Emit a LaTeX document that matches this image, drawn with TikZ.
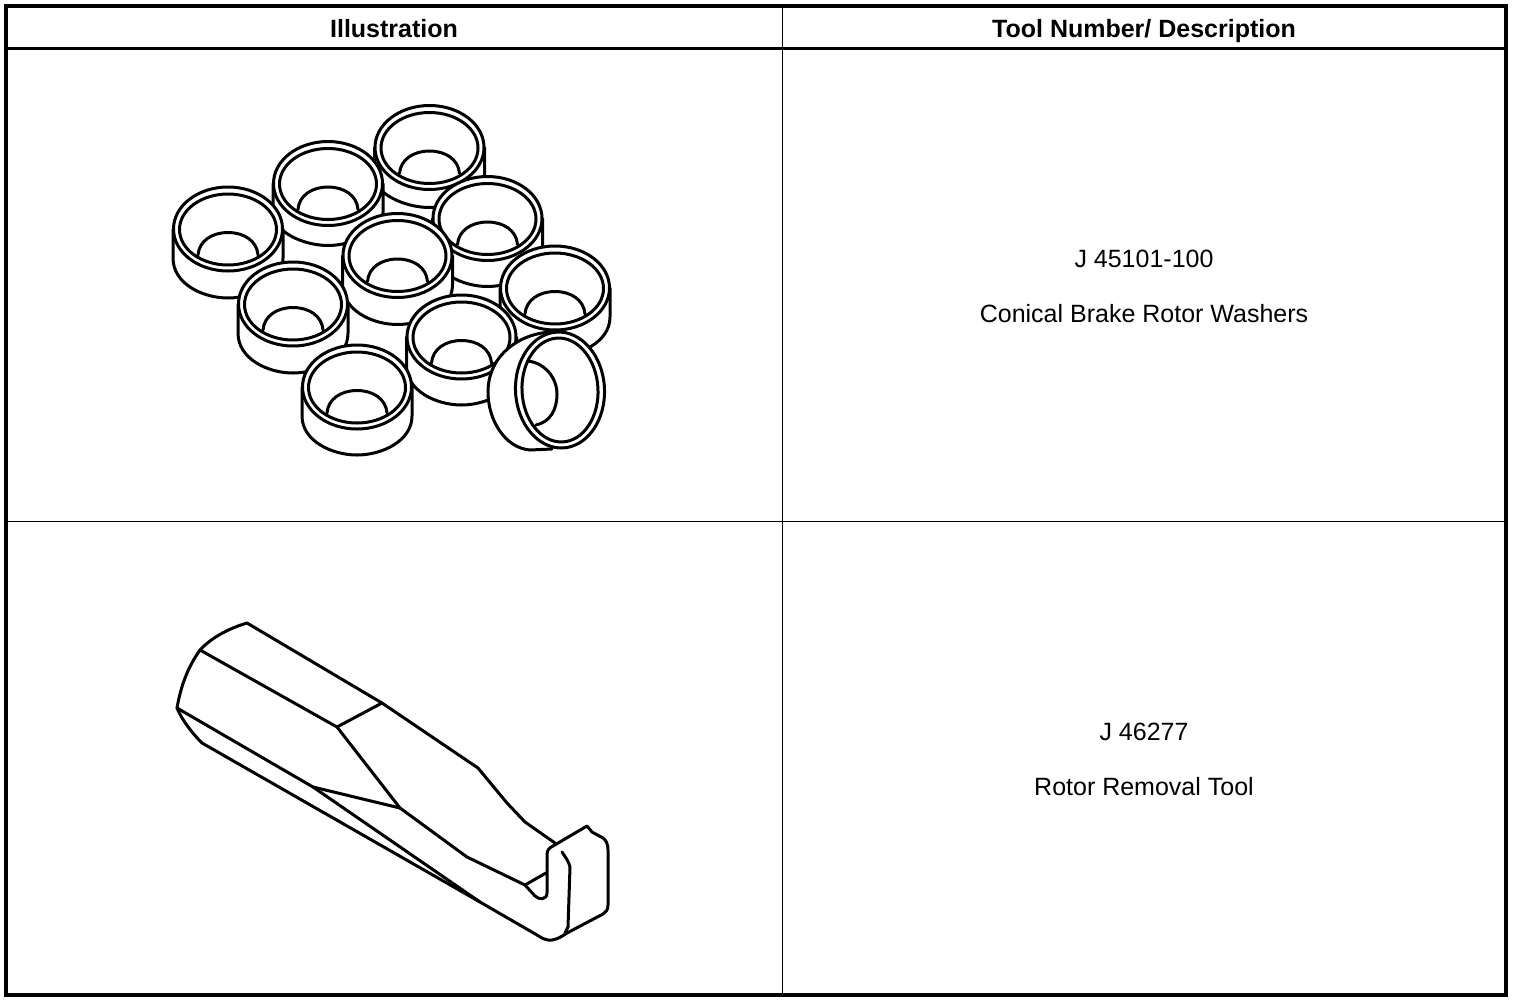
\documentclass[tikz,border=0pt]{standalone}
\usepackage{fontspec}
\setmainfont{Liberation Sans}
\tikzset{
  x=1pt,y=-1pt,
  ink/.style={draw=black,line width=3pt,line join=round,line cap=round},
  fine/.style={draw=black,line width=1pt},
  head/.style={font=\fontsize{25}{28}\selectfont\bfseries,inner sep=0pt,anchor=base},
  body/.style={font=\fontsize{25}{28}\selectfont,inner sep=0pt,anchor=base},
}
\newcommand{\washer}[3]{%
  \begin{scope}[shift={(#1,#2)}]
    \path[ink,fill=white] (-55,0) -- (-55,29) .. controls (-55,{#3-14}) and (-25,#3) .. (0,#3)
       .. controls (25,#3) and (55,{#3-14}) .. (55,29) -- (55,0) -- cycle;
    \path[ink,fill=white] (0,0) ellipse [x radius=54.5,y radius=42];
    \path[ink] (0,0.5) ellipse [x radius=48.5,y radius=35.5];
    \path[ink] (-30,26) .. controls (-29,12) and (-16,3.5) .. (0,3.5) .. controls (16,3.5) and (29,12) .. (30,26);
  \end{scope}}
\begin{document}
\begin{tikzpicture}
\useasboundingbox (0,0) rectangle (1520,1002);
\fill[white] (0,0) rectangle (1520,1002);
% table
\draw[fine] (782,6) -- (782,995);
\draw[fine] (6,521) -- (1506,521);
\draw[draw=black,line width=3pt] (6,48.5) -- (1506,48.5);
\draw[draw=black,line width=4pt] (6,6) rectangle (1506,995);
\node[head] (h1) at (394,37) {Illustration};
\node[head] (h2) at (1144,37) {Tool Number/ Description};
\node[body] (t1) at (1144,267) {J 45101-100};
\node[body] (t2) at (1144,322) {Conical Brake Rotor Washers};
\node[body] (t3) at (1144,740) {J 46277};
\node[body] (t4) at (1144,795) {Rotor Removal Tool};
% washers
\washer{429.5}{147.5}{60}
\washer{328}{183.5}{62}
\washer{487.5}{218.5}{68}
\washer{228}{229}{69}
\washer{397.5}{255.5}{69}
\washer{555}{288}{68}
\washer{293}{304}{69}
\washer{461.5}{337}{68}
\washer{357}{387}{68}
% tilted washer
\fill[white] (552,332) .. controls (520,333) and (488,355) .. (488,392)
   .. controls (488,420) and (505,448) .. (530,450) -- (552,449) -- cycle;
\path[ink] (552,332) .. controls (520,333) and (488,355) .. (488,392)
   .. controls (488,420) and (505,448) .. (530,450) -- (552,449);
\path[ink,fill=white] (560,390) ellipse [x radius=44.5,y radius=58,rotate=3];
\path[ink] (560,390) ellipse [x radius=38,y radius=52,rotate=3];
\path[ink] (528,361) .. controls (545,363) and (557,378) .. (557,394) .. controls (557,410) and (550,422) .. (536,425);
% tool
\path[ink] (177,708) .. controls (181,685) and (188,667) .. (200,650)
  .. controls (212,637) and (230,628) .. (247,623) -- (382,703) -- (478,768)
  -- (507,803) -- (525,822) -- (555,843);
\path[ink] (200,650) -- (337,727) -- (382,703);
\path[ink] (337,727) -- (400,808) -- (467,857) -- (525,885) -- (535,896)
  .. controls (539,900) and (547,900) .. (547,893)
  -- (547,855) .. controls (547,850) and (549,848) .. (553,846)
  -- (587,826) -- (592,832) -- (603,838) .. controls (606,840) and (608,844) .. (608,850)
  -- (608,905) .. controls (608,910) and (606,912) .. (603,914)
  -- (567,933) .. controls (560,938) and (553,941) .. (548,940)
  .. controls (543,939) and (540,937) .. (537,935) -- (480,902) -- (202,743)
  .. controls (192,733) and (182,720) .. (177,708);
\path[ink] (177,708) -- (313,787) -- (480,902);
\path[ink] (313,787) -- (400,808);
\path[ink] (525,885) -- (546,873);
\path[ink] (562,852) .. controls (566,858) and (569,862) .. (570,867) -- (568,927) -- (565,933);
\end{tikzpicture}
\end{document}
